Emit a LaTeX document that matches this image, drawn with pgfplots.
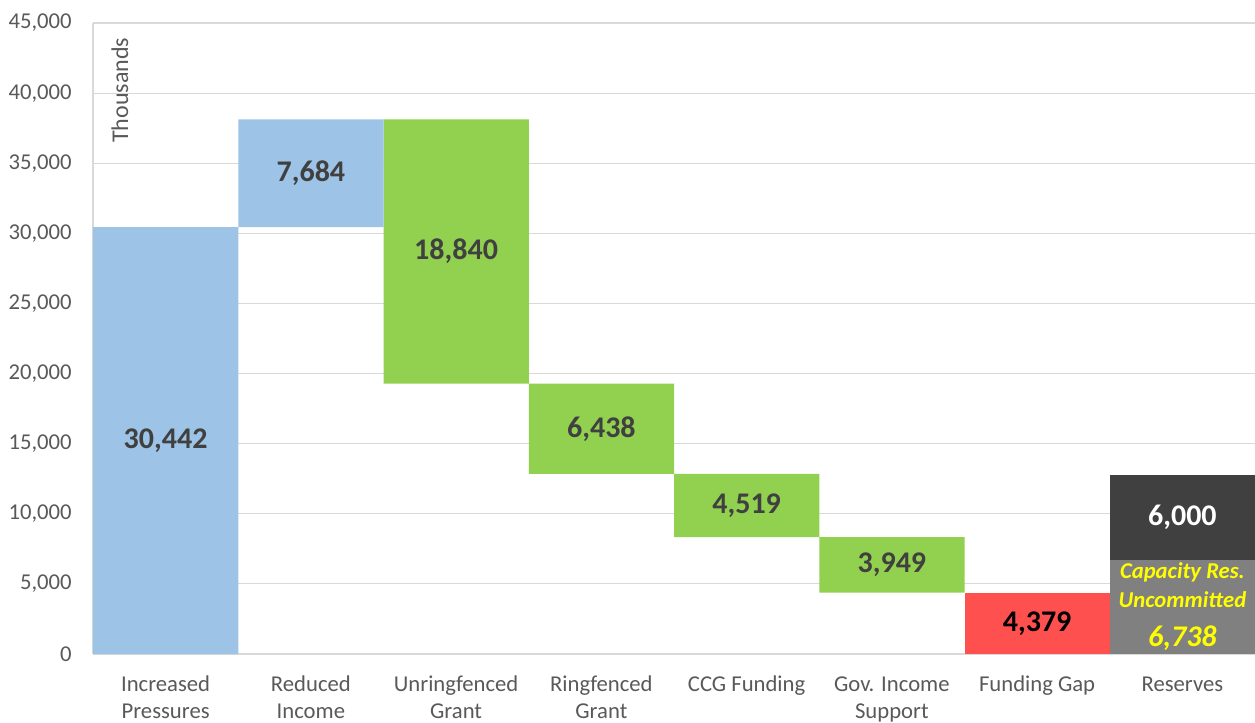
\documentclass[border=0pt]{standalone}
\usepackage{fontspec}
\setmainfont{Carlito}
\usepackage{pgfplots}
\usepackage{pgfplotstable}
\pgfplotsset{compat=1.18}
\usetikzlibrary{calc}
\definecolor{cblue}{HTML}{9DC3E6}
\definecolor{cgreen}{HTML}{92D050}
\definecolor{cred}{HTML}{FF5050}
\definecolor{cgray}{HTML}{808080}
\definecolor{cdark}{HTML}{404040}
\definecolor{lbl}{HTML}{404040}
\definecolor{tickgray}{HTML}{595959}
\definecolor{gridgray}{HTML}{D9D9D9}
\definecolor{cyellow}{HTML}{FFFF00}
\pgfplotstableread{
x base blue green red gray dark
0 0 30442 0 0 0 0
1 30442 7684 0 0 0 0
2 19286 0 18840 0 0 0
3 12848 0 6438 0 0 0
4 8329 0 4519 0 0 0
5 4380 0 3949 0 0 0
6 0 0 0 4379 0 0
7 0 0 0 0 6738 6000
}\wfdata
\begin{document}
\begin{tikzpicture}
\begin{axis}[
  scale only axis,
  width=871.5pt, height=473.25pt,
  xmin=-0.5, xmax=7.5, ymin=0, ymax=45000,
  ybar stacked, bar width=1,
  ytick={0,5000,...,45000},
  scaled y ticks=false,
  xtick={0,...,7},
  xticklabels={{\strut Increased\\Pressures},{\strut Reduced\\Income},{\strut Unringfenced\\Grant},{\strut Ringfenced\\Grant},{\strut CCG Funding},{\strut Gov. Income\\Support},{\strut Funding Gap},{\strut Reserves}},
  xticklabel style={align=center, font=\fontsize{17}{20.5}\selectfont, text=tickgray, yshift=-10pt, anchor=north},
  yticklabel style={font=\fontsize{17}{19.5}\selectfont, text=tickgray, xshift=-12.5pt,
    /pgf/number format/1000 sep={,}, /pgf/number format/assume math mode=true},
  major tick length=0pt,
  ymajorgrids, grid style={gridgray, line width=0.9pt},
  axis lines*=left,
  axis line style={gridgray, line width=0.9pt},
  clip=false,
]
\addplot[draw=none, fill=white, fill opacity=0] table[x=x,y=base]{\wfdata};
\addplot[draw=none, fill=cblue] table[x=x,y=blue]{\wfdata};
\addplot[draw=none, fill=cgreen] table[x=x,y=green]{\wfdata};
\addplot[draw=none, fill=cred] table[x=x,y=red]{\wfdata};
\addplot[draw=none, fill=cgray] table[x=x,y=gray]{\wfdata};
\addplot[draw=none, fill=cdark] table[x=x,y=dark]{\wfdata};
\coordinate (l0) at (axis cs:0,15221);
\coordinate (l1) at (axis cs:1,34284);
\coordinate (l2) at (axis cs:2,28706);
\coordinate (l3) at (axis cs:3,16067);
\coordinate (l4) at (axis cs:4,10588);
\coordinate (l5) at (axis cs:5,6354);
\coordinate (l6) at (axis cs:6,2190);
\coordinate (l7) at (axis cs:7,9738);
\coordinate (l8) at (axis cs:7,1100);
\coordinate (l9) at (axis cs:7,5840);
\coordinate (l10) at (axis cs:7,3846);
\coordinate (th) at (axis description cs:0.0232,0.984);
\end{axis}
\begin{scope}[every node/.style={font=\fontsize{22.5}{24}\selectfont\bfseries, text=lbl}]
\node at (l0) {30,442};
\node at (l1) {7,684};
\node at (l2) {18,840};
\node at (l3) {6,438};
\node at (l4) {4,519};
\node at (l5) {3,949};
\node[text=black] at (l6) {4,379};
\node[text=white] at (l7) {6,000};
\node[text=cyellow, font=\fontsize{22.5}{24}\selectfont\bfseries\itshape] at (l8) {6,738};
\node[text=cyellow, font=\fontsize{17}{19}\selectfont\bfseries\itshape] at (l9) {Capacity Res.};
\node[text=cyellow, font=\fontsize{17}{19}\selectfont\bfseries\itshape] at (l10) {Uncommitted};
\end{scope}
\node[rotate=90, anchor=east, font=\fontsize{18}{20}\selectfont, text=tickgray] at (th) {Thousands};
\pgfresetboundingbox
\path[use as bounding box] ($(current axis.south west)+(-69.75pt,-51pt)$) rectangle ($(current axis.north east)+(0pt,17.25pt)$);
\end{tikzpicture}
\end{document}
